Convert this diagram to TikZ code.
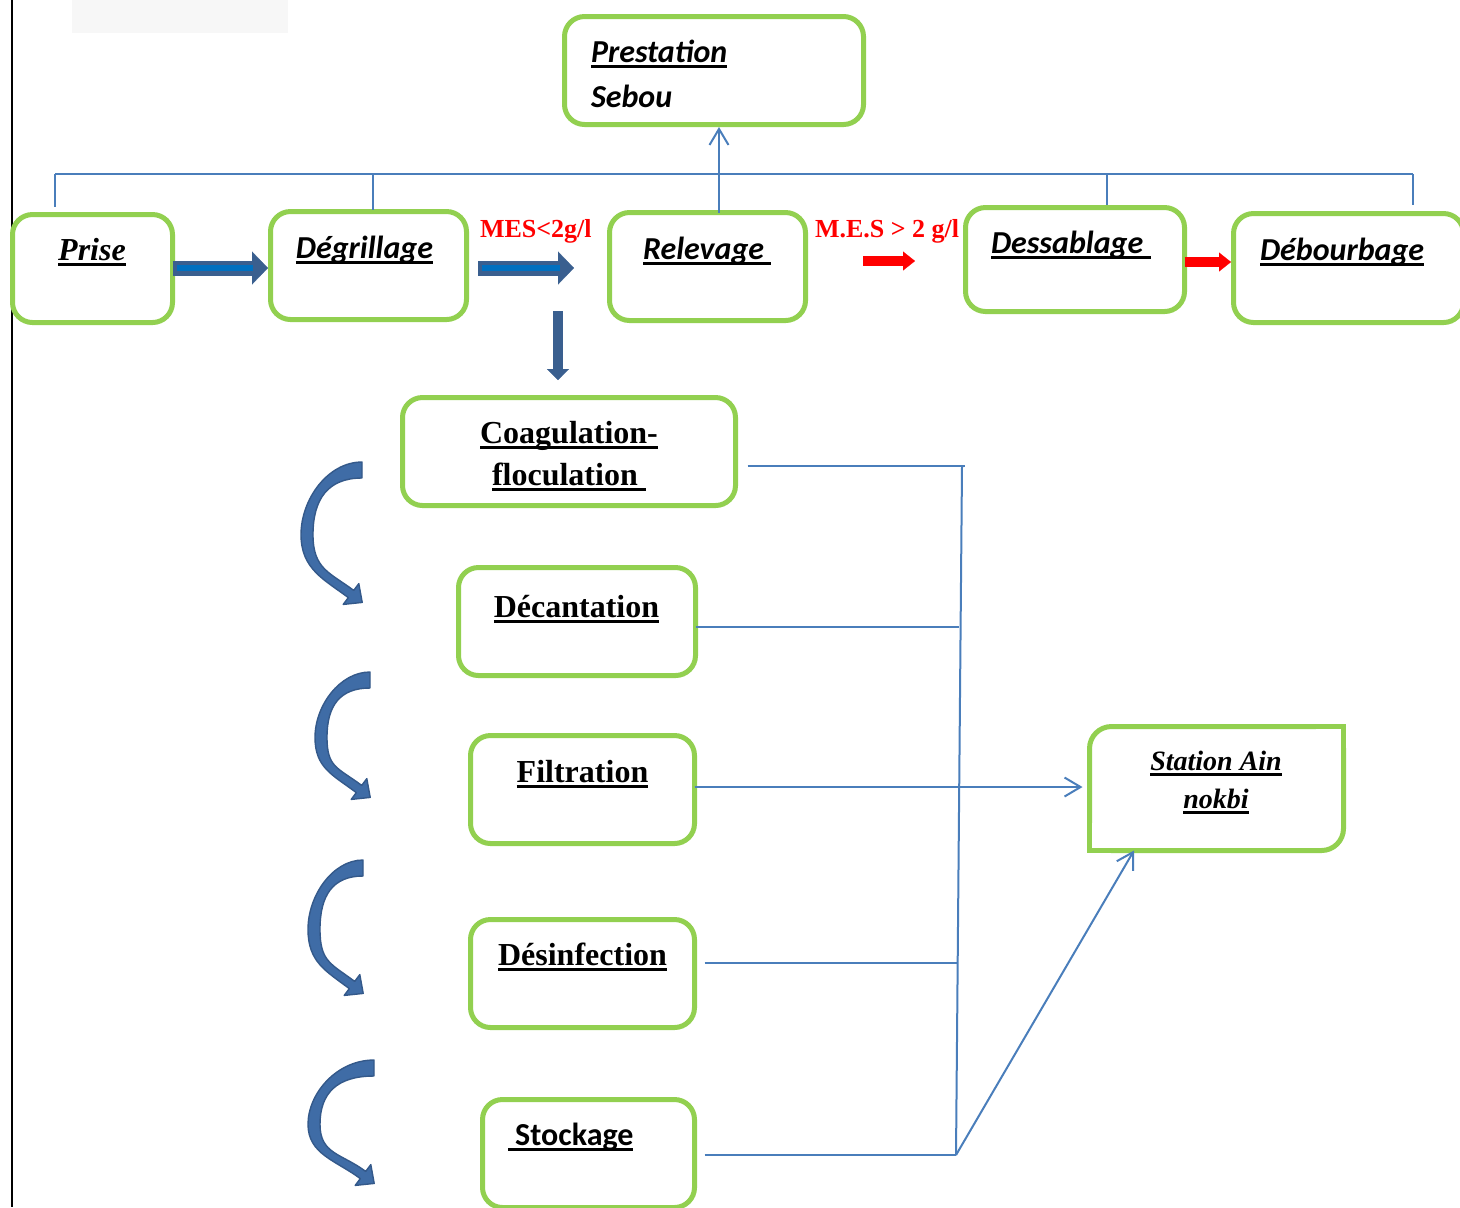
\documentclass[tikz,border=0pt]{standalone}
\usepackage{fontspec}
\setmainfont{Liberation Serif}
\newfontfamily\calfont{Carlito}
\usetikzlibrary{arrows.meta}
\definecolor{boxgreen}{HTML}{92D050}
\definecolor{lineblue}{HTML}{4A7EBB}
\definecolor{arrdark}{HTML}{3A5F8F}
\definecolor{arrbright}{HTML}{0070C0}
\definecolor{bendfill}{HTML}{3F6CA6}
\definecolor{bendline}{HTML}{34598A}
\newcommand\myul[1]{\leavevmode\setbox0=\hbox{#1}\rlap{\vrule height -1.4pt depth 2.9pt width \wd0}\box0}
\newcommand\fCBI{\calfont\bfseries\itshape\fontsize{16pt}{19pt}\selectfont}
\newcommand\fCB{\calfont\bfseries\fontsize{16pt}{19pt}\selectfont}
\newcommand\fTB{\bfseries\fontsize{16pt}{19pt}\selectfont}
\newcommand\fTBI{\bfseries\itshape\fontsize{16pt}{19pt}\selectfont}
\newcommand\fSBI{\bfseries\itshape\fontsize{14pt}{17pt}\selectfont}
\newcommand\fMES{\bfseries\fontsize{13pt}{15pt}\selectfont}
% #1,#2 top end; #3 depth to the left; #4 height to tip
\newcommand\bendarrow[4]{%
  \begin{scope}[shift={(#1,#2)}]
    \filldraw[fill=bendfill, draw=bendline, line width=0.7pt, line join=round]
      (0,-8) .. controls ({-0.63*#3},-8) and ({-#3-7},{0.22*#4}) .. ({-#3-7},{0.49*#4})
      .. controls ({-#3-7},{0.75*#4}) and (-37.7,{#4-22.4}) .. (-13.7,{#4-4.4})
      -- (-18.8,{#4+2.4}) -- (0.2,{#4+0.4}) -- (-3.2,{#4-18.4}) -- (-8.3,{#4-11.6})
      .. controls (-32.3,{#4-29.6}) and ({-#3+5},{0.75*#4}) .. ({-#3+5},{0.49*#4})
      .. controls ({-#3+5},{0.22*#4}) and ({-0.63*#3},8) .. (0,8) -- cycle;
  \end{scope}}
\tikzset{
  gbox/.style={draw=boxgreen, line width=2.5pt, rounded corners=10pt, inner sep=0pt, outer sep=0pt, fill=white},
  gline/.style={draw=boxgreen, line width=2.5pt, line cap=rect},
  txt/.style={inner sep=0pt, outer sep=0pt, anchor=base},
  bl/.style={draw=lineblue, line width=1pt},
  openarr/.style={-{Straight Barb[length=8pt,width=9.5pt]}},
  bigarr/.style={line width=7.5pt, draw=arrdark, -{Triangle[length=8pt,width=16.5pt,line width=0.1pt]}},
  innerarr/.style={line width=3pt, draw=arrbright},
  dnarr/.style={line width=5pt, draw=arrdark, -{Triangle[length=5.5pt,width=11pt,line width=0.1pt]}},
  redarr/.style={line width=5pt, draw=red, -{Triangle[length=6pt,width=9.5pt,line width=0.1pt]}}
}
\begin{document}
\begin{tikzpicture}[x=0.5pt,y=-0.5pt]
\useasboundingbox (0,0) rectangle (1460,1207);
\fill[black!3] (72,0) rectangle (288,33);
\draw[line width=1pt] (12,0) -- (12,1207);

% boxes
\node[gbox, minimum width=149.5pt, minimum height=54pt] (prest) at (714,70.5) {};
\node[gbox, minimum width=80pt, minimum height=54pt] (prise) at (92.5,268.5) {};
\node[gbox, minimum width=98pt, minimum height=54pt] (degr) at (368.5,265.5) {};
\node[gbox, minimum width=98pt, minimum height=54pt] (relev) at (707.5,266.5) {};
\node[gbox, minimum width=109.5pt, minimum height=52pt] (dess) at (1075,259.5) {};
\node[gbox, minimum width=115pt, minimum height=54.5pt] (debo) at (1348.5,268) {};
\node[gbox, minimum width=166.5pt, minimum height=54pt] (coag) at (569,451.5) {};
\node[gbox, minimum width=118.5pt, minimum height=54pt] (decan) at (577,621.5) {};
\node[gbox, minimum width=112pt, minimum height=54pt] (filt) at (582.5,789.5) {};
\node[gbox, minimum width=112pt, minimum height=54pt] (desinf) at (582.5,973.5) {};
\node[gbox, minimum width=106pt, minimum height=54pt] (stock) at (588.5,1153.5) {};
\node[gbox, rounded corners=11pt, minimum width=127pt, minimum height=62pt] (station) at (1216.5,788.5) {};
% square corners at top right and bottom left of the station box
\fill[white] ([xshift=-14pt,yshift=-14pt]station.north east) rectangle ([xshift=1.4pt,yshift=1.4pt]station.north east);
\draw[gline] ([yshift=-14pt]station.north east) |- ([xshift=-14pt]station.north east);
\fill[white] ([xshift=-1.4pt,yshift=-1.4pt]station.south west) rectangle ([xshift=14pt,yshift=14pt]station.south west);
\draw[gline] ([yshift=14pt]station.south west) |- ([xshift=14pt]station.south west);

% texts
\node[txt, anchor=base west] (prestA) at (591,62) {\fCBI\myul{Prestation}};
\node[txt, anchor=base west] (prestB) at (591,107) {\fCBI Sebou};
\node[txt] (priseT) at (92,260) {\fTBI\myul{Prise}};
\node[txt] (degrT) at (364.5,258) {\fCBI\myul{Dégrillage}};
\node[txt, anchor=base west] (relevT) at (643,259) {\fCBI\myul{Relevage\ }};
\node[txt, anchor=base west] (dessT) at (991,253) {\fCBI\myul{Dessablage\ }};
\node[txt, anchor=base west] (deboT) at (1260,260) {\fCBI\myul{Débourbage}};
\node[txt] (coagA) at (569,443) {\fTB\myul{Coagulation-}};
\node[txt, anchor=base west] (coagB) at (492,485) {\fTB\myul{floculation\ }};
\node[txt] (decanT) at (576.5,617) {\fTB\myul{Décantation}};
\node[txt] (filtT) at (582.5,782) {\fTB\myul{Filtration}};
\node[txt] (desinfT) at (582.5,965) {\fTB\myul{Désinfection}};
\node[txt, anchor=base west] (stockT) at (508,1145) {\fCB\myul{\ Stockage}};
\node[txt] (statA) at (1216,770) {\fSBI\myul{Station Ain}};
\node[txt] (statB) at (1216,808) {\fSBI\myul{nokbi}};
\node[txt, anchor=base west, text=red] (mes1) at (480,237) {\fMES MES<2g/l};
\node[txt, anchor=base west, text=red] (mes2) at (815,237) {\fMES M.E.S > 2 g/l};

% top bus
\coordinate (busL) at (55,174);
\coordinate (busR) at (1413,174);
\coordinate (b2) at (373,174);
\coordinate (b3) at (719,174);
\coordinate (b4) at (1107,174);
\draw[bl] (busL) -- (busR);
\draw[bl] (busL) -- ([yshift=3.75pt]prise.north -| busL);
\draw[bl, shorten >=1pt] (b2) -- (b2 |- degr.north);
\draw[bl, openarr, shorten >=1.25pt] (relev.north -| b3) -- (prest.south -| b3);
\draw[bl, shorten >=1.25pt] (b4) -- (b4 |- dess.north);
\draw[bl, shorten >=4.25pt] (busR) -- (busR |- debo.north);

% block arrows
\coordinate (ay) at (0,268);
\draw[bigarr, shorten >=1.25pt] (prise.east |- ay) -- (degr.west |- ay);
\draw[innerarr, shorten <=2pt, shorten >=9pt] (prise.east |- ay) -- (degr.west |- ay);
\draw[bigarr, shorten <=5.75pt, shorten >=17.75pt] (degr.east |- ay) -- (relev.west |- ay);
\draw[innerarr, shorten <=7.5pt, shorten >=25pt] (degr.east |- ay) -- (relev.west |- ay);
\coordinate (dtop) at (558,311);
\draw[dnarr] (dtop) -- ([yshift=8.75pt]dtop |- coag.north);
\coordinate (ry) at (0,261);
\draw[redarr, shorten <=28.75pt, shorten >=25.25pt] (relev.east |- ry) -- (dess.west |- ry);
\coordinate (ry2) at (0,262);
\draw[redarr, shorten >=1.25pt] (dess.east |- ry2) -- (debo.west |- ry2);

% curved arrows
\bendarrow{362}{470}{54}{132}
\bendarrow{370}{680}{48}{117}
\bendarrow{363}{868}{48}{125}
\bendarrow{374}{1068}{59}{115}

% right collector
\coordinate (j1) at (962,466);
\coordinate (j2) at (958.5,627);
\coordinate (j3) at (958,787);
\coordinate (j4) at (957,963);
\coordinate (j5) at (956,1155);
\draw[bl] ([xshift=6pt]coag.east |- j1) -- ([xshift=1.5pt]j1);
\draw[bl] (j1) -- (j5);
\draw[bl] (decan.east |- j2) -- (j2);
\draw[bl, openarr, shorten >=3.5pt] (filt.east |- j3) -- (station.west |- j3);
\draw[bl] ([xshift=5pt]desinf.east |- j4) -- (j4);
\draw[bl] ([xshift=5pt]stock.east |- j5) -- (j5);
\draw[bl, openarr] (j5) -- ([xshift=22.25pt]station.south west);
\end{tikzpicture}
\end{document}
